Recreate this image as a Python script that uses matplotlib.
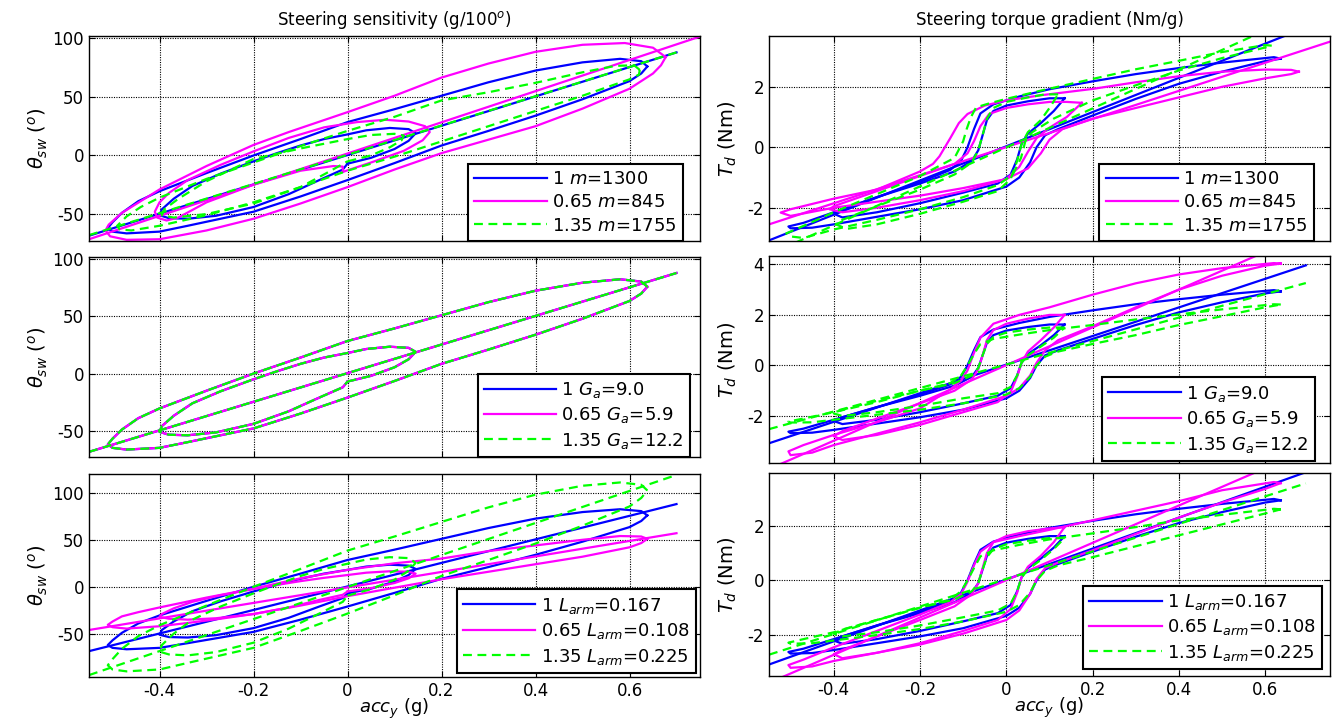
import matplotlib
matplotlib.use('Agg')
import matplotlib.pyplot as plt

# ---------------- steering wheel angle (left column) ----------------
# baseline (blue, same in all three left panels)
th_ramp_x = [-0.55, 0.70]
th_ramp_y = [-68.5, 88]
th_in_x = [0.00, 0.05, 0.10, 0.13, 0.145, 0.13, 0.09, 0.04, 0.00, -0.05, -0.10, -0.15, -0.20,
           -0.27, -0.33, -0.37, -0.395, -0.40, -0.38, -0.34, -0.28, -0.20, -0.125, -0.06, -0.01, 0.00]
th_in_y = [-7, -2, 5.5, 12.5, 19, 22.5, 23.5, 21.5, 18, 14, 8.5, 2, -5,
           -15.5, -26, -37, -46, -51, -53.5, -54, -51.5, -44, -33, -21, -12, -7]
th_out_x = [0.638, 0.625, 0.58, 0.50, 0.40, 0.30, 0.20, 0.10, 0.00, -0.10, -0.20, -0.30, -0.40,
            -0.445, -0.48, -0.50, -0.51, -0.50, -0.47, -0.40, -0.34, -0.27, -0.20, -0.10, 0.00,
            0.10, 0.20, 0.30, 0.40, 0.50, 0.60, 0.625, 0.638]
th_out_y = [76, 80.5, 82.5, 79.5, 72.5, 62.5, 51, 39.5, 28.5, 14, 0, -15, -30.5,
            -39, -49, -57, -62, -65, -66.5, -65, -60, -54, -48, -35, -21,
            -6.5, 8.5, 21, 34, 48, 63.5, 70, 76]

# m = 845 (magenta, top left)
m845_ramp_x = [-0.55, 0.75]
m845_ramp_y = [-71.5, 101.5]
m845_in_x = [-0.01, 0.05, 0.12, 0.16, 0.175, 0.165, 0.13, 0.08, 0.02, -0.05, -0.125, -0.20, -0.27,
             -0.34, -0.38, -0.40, -0.41, -0.405, -0.385, -0.36, -0.30, -0.20, -0.10, -0.03, -0.01, -0.01]
m845_in_y = [-14, -6, 4, 13, 20, 25, 29, 30.5, 28.5, 24, 15, 3.5, -8,
             -21, -32, -40, -48, -53, -55.5, -53, -40, -25, -13, -9, -9.5, -14]
m845_out_x = [0.677, 0.65, 0.59, 0.50, 0.40, 0.30, 0.20, 0.10, 0.00, -0.125, -0.20, -0.30, -0.40,
              -0.44, -0.48, -0.508, -0.515, -0.505, -0.47, -0.40, -0.30, -0.20, -0.10, 0.00,
              0.10, 0.20, 0.30, 0.40, 0.50, 0.60, 0.65, 0.667, 0.677]
m845_out_y = [84, 92, 96, 94.5, 88.5, 78.5, 66.5, 51, 37, 20, 9, -9, -29,
              -39, -49, -59, -64, -69, -72, -71.5, -64, -54, -41, -27,
              -12, 2, 13.5, 25, 40, 57, 70, 77, 84]

# m = 1755 (green, top left)
m1755_ramp_x = [-0.55, 0.70]
m1755_ramp_y = [-68, 88]
m1755_in_x = [0.00, 0.05, 0.09, 0.115, 0.12, 0.10, 0.05, 0.00, -0.10, -0.20, -0.30, -0.36, -0.39,
              -0.395, -0.37, -0.30, -0.20, -0.10, -0.04, 0.00]
m1755_in_y = [-5, 0, 7, 13, 17, 18.5, 17.5, 14, 6, -3, -22, -37, -46,
              -51, -53, -50, -41, -27, -14, -5]
m1755_out_x = [0.622, 0.61, 0.57, 0.50, 0.40, 0.30, 0.20, 0.10, 0.00, -0.10, -0.20, -0.30, -0.40,
               -0.44, -0.47, -0.49, -0.485, -0.46, -0.40, -0.30, -0.20, -0.10, 0.00,
               0.10, 0.20, 0.30, 0.40, 0.50, 0.60, 0.62, 0.622]
m1755_out_y = [73, 77, 76.5, 71, 62, 54, 47, 33, 21, 8, -6, -20, -36,
               -44, -52, -60, -63, -64, -60, -51, -40, -27, -13,
               -1, 12, 25, 38, 51, 65, 69, 73]

# L_arm = 0.108 (magenta, bottom left), same x knots as baseline
l108_ramp_y = [-46, 57]
l108_in_y = [-5, -1.5, 4, 9, 14, 16, 16.5, 15, 12.5, 9.5, 6, 2, -2.5,
             -9, -16, -23, -29, -32, -34, -35, -33.5, -29, -22, -14, -8.5, -5]
l108_out_y = [51, 53.5, 54, 50, 44, 38, 30, 25, 18, 9, -2, -11.5, -22,
              -27, -31.5, -37, -40.5, -43, -44.5, -42, -38.5, -34, -29, -20, -10,
              -1, 8, 16, 24, 32, 42, 46.5, 51]

# L_arm = 0.225 (green, bottom left)
l225_ramp_y = [-94, 119]
l225_in_y = [-9.5, -2.5, 7.5, 17, 25.5, 30.5, 31.5, 29, 24.5, 19, 11.5, 2.5, -7,
             -21, -35, -50, -62, -69, -72, -73, -69.5, -59.5, -44.5, -28.5, -16, -9.5]
l225_out_y = [102.5, 108.5, 111, 107.5, 98, 84.5, 69, 53.5, 38.5, 19, 0, -20, -41,
              -52.5, -66, -77, -83.5, -88, -90, -88, -81, -73, -65, -47, -28.5,
              -9, 11.5, 28.5, 46, 65, 85.5, 94.5, 102.5]

# ---------------- steering torque (right column) ----------------
tq_ramp_x = [-0.55, 0.694]
tq_ramp_y = [-3.08, 3.96]
tq_in_x = [0.135, 0.10, 0.05, 0.00, -0.03, -0.045, -0.055, -0.065, -0.08, -0.12, -0.20, -0.30, -0.38,
           -0.40, -0.38, -0.30, -0.20, -0.10, -0.02, 0.01, 0.025, 0.035, 0.05, 0.08, 0.11, 0.135]
tq_in_y = [1.62, 1.62, 1.52, 1.38, 1.2, 0.9, 0.4, -0.1, -0.45, -0.8, -1.2, -1.65, -2.05,
           -2.2, -2.32, -2.15, -1.85, -1.5, -1.2, -0.9, -0.4, 0.1, 0.45, 0.8, 1.2, 1.62]
tq_out_x = [0.636, 0.62, 0.50, 0.40, 0.30, 0.20, 0.10, 0.03, -0.03, -0.06, -0.075, -0.09, -0.105,
            -0.13, -0.20, -0.30, -0.40, -0.47, -0.505, -0.50, -0.45, -0.40, -0.30, -0.20, -0.10,
            0.00, 0.03, 0.055, 0.07, 0.09, 0.12, 0.20, 0.30, 0.40, 0.50, 0.60, 0.636]
tq_out_y = [2.93, 2.98, 2.8, 2.62, 2.42, 2.18, 1.92, 1.68, 1.42, 1.12, 0.6, 0.0, -0.45,
            -0.75, -1.15, -1.65, -2.15, -2.5, -2.62, -2.68, -2.66, -2.55, -2.3, -2.05, -1.75,
            -1.3, -1.0, -0.5, 0.0, 0.4, 0.6, 1.05, 1.6, 2.1, 2.5, 2.85, 2.93]

# m = 845 torque
tm845_ramp_x = [-0.55, 0.758]
tm845_ramp_y = [-2.55, 3.53]
tm845_in_x = [0.175, 0.14, 0.10, 0.05, 0.00, -0.04, -0.06, -0.075, -0.09, -0.12, -0.20, -0.30, -0.40,
              -0.41, -0.38, -0.30, -0.20, -0.10, 0.00, 0.03, 0.05, 0.07, 0.10, 0.14, 0.175]
tm845_in_y = [1.47, 1.5, 1.5, 1.42, 1.3, 1.1, 0.7, 0.2, -0.2, -0.55, -0.95, -1.45, -1.95,
              -2.05, -2.15, -2.0, -1.75, -1.45, -1.05, -0.65, -0.15, 0.3, 0.65, 1.0, 1.47]
tm845_out_x = [0.678, 0.66, 0.60, 0.50, 0.40, 0.30, 0.20, 0.08, 0.00, -0.05, -0.09, -0.11, -0.13,
               -0.155, -0.17, -0.20, -0.30, -0.40, -0.50, -0.523, -0.50, -0.40, -0.30, -0.20, -0.10,
               0.00, 0.05, 0.08, 0.10, 0.13, 0.20, 0.30, 0.40, 0.50, 0.60, 0.66, 0.678]
tm845_out_y = [2.5, 2.56, 2.57, 2.5, 2.35, 2.15, 1.93, 1.72, 1.55, 1.38, 1.1, 0.8, 0.3,
               -0.3, -0.55, -0.8, -1.4, -1.7, -2.05, -2.16, -2.27, -2.0, -1.8, -1.6, -1.35,
               -1.05, -0.7, -0.2, 0.25, 0.6, 0.95, 1.3, 1.65, 2.0, 2.28, 2.42, 2.5]

# m = 1755 torque
tm1755_ramp_x = [-0.55, 0.694]
tm1755_ramp_y = [-3.55, 4.47]
tm1755_in_x = [0.12, 0.09, 0.05, 0.00, -0.03, -0.045, -0.055, -0.065, -0.08, -0.12, -0.20, -0.30, -0.38,
               -0.395, -0.37, -0.30, -0.20, -0.10, -0.02, 0.01, 0.025, 0.035, 0.05, 0.08, 0.10, 0.12]
tm1755_in_y = [1.75, 1.75, 1.65, 1.5, 1.3, 0.95, 0.4, -0.1, -0.5, -0.9, -1.4, -1.95, -2.4,
               -2.55, -2.7, -2.55, -2.2, -1.8, -1.45, -1.05, -0.45, 0.1, 0.5, 0.9, 1.3, 1.75]
tm1755_out_x = [0.615, 0.60, 0.50, 0.40, 0.30, 0.20, 0.082, 0.00, -0.04, -0.07, -0.082, -0.092, -0.10,
                -0.12, -0.20, -0.30, -0.40, -0.47, -0.51, -0.50, -0.47, -0.40, -0.30, -0.20, -0.10,
                -0.02, 0.015, 0.034, 0.044, 0.06, 0.11, 0.20, 0.30, 0.40, 0.50, 0.60, 0.615]
tm1755_out_y = [3.36, 3.38, 3.15, 2.86, 2.58, 2.26, 1.88, 1.6, 1.45, 1.32, 1.0, 0.6, 0.2,
                -0.35, -0.95, -1.55, -2.15, -2.6, -2.85, -2.95, -3.0, -2.72, -2.4, -2.05, -1.65,
                -1.25, -0.9, -0.35, 0.2, 0.5, 0.95, 1.55, 2.05, 2.54, 2.95, 3.3, 3.36]

# G_a = 5.9 / 12.2 torque (same x knots as baseline)
tg59_ramp_y = [-4.1, 5.2]
tg59_in_y = [2.0, 2.0, 1.85, 1.65, 1.4, 1.0, 0.4, -0.15, -0.55, -1.0, -1.5, -2.1, -2.6,
             -2.8, -2.95, -2.75, -2.35, -1.85, -1.45, -1.05, -0.45, 0.1, 0.55, 1.0, 1.5, 2.0]
tg59_out_y = [4.03, 4.05, 3.85, 3.6, 3.25, 2.8, 2.3, 2.0, 1.65, 1.1, 0.5, -0.2, -0.6,
              -0.95, -1.7, -2.25, -2.75, -3.15, -3.4, -3.55, -3.45, -3.15, -2.7, -2.25, -1.75,
              -1.2, -0.9, -0.4, 0.1, 0.6, 1.0, 1.55, 2.3, 3.0, 3.55, 3.95, 4.03]
tg122_ramp_y = [-2.52, 3.26]
tg122_in_y = [1.5, 1.5, 1.42, 1.3, 1.13, 0.85, 0.4, -0.1, -0.4, -0.7, -1.0, -1.4, -1.75,
              -1.9, -2.0, -1.85, -1.6, -1.3, -1.1, -0.85, -0.4, 0.1, 0.4, 0.75, 1.1, 1.5]
tg122_out_y = [2.41, 2.42, 2.22, 2.02, 1.82, 1.6, 1.4, 1.22, 1.05, 0.85, 0.45, 0.0, -0.4,
               -0.7, -1.0, -1.45, -1.85, -2.1, -2.22, -2.26, -2.25, -2.15, -1.95, -1.75, -1.5,
               -1.15, -0.9, -0.45, 0.0, 0.35, 0.55, 0.85, 1.2, 1.6, 1.95, 2.3, 2.41]

# L_arm = 0.108 / 0.225 torque
tl108_ramp_y = [-3.75, 4.75]
tl108_in_y = [1.95, 1.9, 1.8, 1.62, 1.4, 1.0, 0.45, -0.1, -0.5, -0.95, -1.45, -2.05, -2.55,
              -2.7, -2.85, -2.65, -2.3, -1.85, -1.45, -1.05, -0.45, 0.1, 0.5, 0.9, 1.4, 1.95]
tl108_out_y = [3.56, 3.6, 3.3, 2.9, 2.55, 2.2, 1.85, 1.62, 1.4, 1.05, 0.55, -0.05, -0.5,
               -0.8, -1.25, -1.85, -2.45, -2.9, -3.1, -3.2, -3.15, -2.95, -2.65, -2.35, -1.95,
               -1.45, -1.1, -0.5, 0.05, 0.45, 0.65, 1.1, 1.7, 2.3, 2.85, 3.35, 3.56]
tl225_ramp_y = [-2.72, 3.55]
tl225_in_y = [1.55, 1.55, 1.45, 1.32, 1.15, 0.85, 0.4, -0.1, -0.4, -0.7, -1.0, -1.45, -1.8,
              -1.95, -2.05, -1.9, -1.65, -1.35, -1.1, -0.85, -0.4, 0.1, 0.4, 0.75, 1.15, 1.55]
tl225_out_y = [2.6, 2.62, 2.4, 2.2, 1.95, 1.72, 1.5, 1.3, 1.1, 0.88, 0.45, 0.0, -0.4,
               -0.7, -1.0, -1.45, -1.9, -2.15, -2.28, -2.32, -2.3, -2.2, -2.0, -1.78, -1.5,
               -1.15, -0.9, -0.45, 0.0, 0.35, 0.55, 0.85, 1.25, 1.65, 2.05, 2.45, 2.6]

x_ticks = [-0.4, -0.2, 0, 0.2, 0.4, 0.6]
x_tick_labels = ['-0.4', '-0.2', '0', '0.2', '0.4', '0.6']

plt.rcParams['font.family'] = ['DejaVu Sans']
plt.rcParams['axes.unicode_minus'] = False
plt.rcParams['mathtext.fontset'] = 'custom'
plt.rcParams['mathtext.rm'] = 'DejaVu Sans'
plt.rcParams['mathtext.it'] = 'DejaVu Sans:italic'
plt.rcParams['mathtext.bf'] = 'DejaVu Sans:bold'

BLUE, MAG, GRN = '#0000ff', '#ff00ff', '#00ff00'
LW = 1.6


def draw(ax, segs, color, label, dashed=False):
    for i, (xs, ys) in enumerate(segs):
        ln, = ax.plot(xs, ys, color=color, lw=LW, label=label if i == 0 else None)
        if dashed:
            ln.set_dashes((4, 2.5))


def style(ax, ylim, yticks, show_x):
    ax.set_xlim(-0.55, 0.75)
    ax.set_ylim(*ylim)
    ax.set_xticks(x_ticks)
    ax.set_yticks(yticks)
    ax.set_yticklabels([str(t) for t in yticks])
    if show_x:
        ax.set_xticklabels(x_tick_labels)
        ax.set_xlabel(r'$acc_y$ (g)', fontsize=13, labelpad=-2)
    else:
        ax.set_xticklabels([])
    ax.grid(True, color='k', linestyle=(0, (1, 1.2)), linewidth=0.8)
    ax.tick_params(direction='in', top=True, right=True, length=4, labelsize=12)
    for s in ax.spines.values():
        s.set_linewidth(1.0)


def legend(ax, anchor):
    lg = ax.legend(loc='lower right', bbox_to_anchor=anchor, fontsize=13, handlelength=4.0,
                   handletextpad=0.3, borderpad=0.35, labelspacing=0.3, fancybox=False,
                   framealpha=1, edgecolor='k', borderaxespad=0)
    lg.get_frame().set_linewidth(1.5)


fig = plt.figure(figsize=(13.32, 7.25), dpi=100)
W, H = 1332.0, 725.0
L0, LW0 = 89 / W, 611 / W
R0, RW0 = 769 / W, 561 / W


def rect(x0, w, top, bot):
    return [x0, 1 - bot / H, w, (bot - top) / H]


ax1 = fig.add_axes(rect(L0, LW0, 36, 241))
ax2 = fig.add_axes(rect(R0, RW0, 36, 241))
ax3 = fig.add_axes(rect(L0, LW0, 257, 457))
ax4 = fig.add_axes(rect(R0, RW0, 256, 463))
ax5 = fig.add_axes(rect(L0, LW0, 474, 677))
ax6 = fig.add_axes(rect(R0, RW0, 473, 676))

th_base = [(th_ramp_x, th_ramp_y), (th_in_x, th_in_y), (th_out_x, th_out_y)]
tq_base = [(tq_ramp_x, tq_ramp_y), (tq_in_x, tq_in_y), (tq_out_x, tq_out_y)]

# top left: mass
draw(ax1, th_base, BLUE, r'1 $\mathit{m}$=$\mathit{1300}$')
draw(ax1, [(m845_ramp_x, m845_ramp_y), (m845_in_x, m845_in_y), (m845_out_x, m845_out_y)],
     MAG, r'0.65 $\mathit{m}$=$\mathit{845}$')
draw(ax1, [(m1755_ramp_x, m1755_ramp_y), (m1755_in_x, m1755_in_y), (m1755_out_x, m1755_out_y)],
     GRN, r'1.35 $\mathit{m}$=$\mathit{1755}$', dashed=True)
style(ax1, (-73, 102), [-50, 0, 50, 100], False)
ax1.set_title(r'Steering sensitivity (g/100$^o$)', fontsize=12, pad=8)
ax1.set_ylabel(r'$\theta_{sw}$ ($^o$)', fontsize=14, labelpad=2)
legend(ax1, (0.972, 0.0))

# top right: mass
draw(ax2, tq_base, BLUE, r'1 $\mathit{m}$=$\mathit{1300}$')
draw(ax2, [(tm845_ramp_x, tm845_ramp_y), (tm845_in_x, tm845_in_y), (tm845_out_x, tm845_out_y)],
     MAG, r'0.65 $\mathit{m}$=$\mathit{845}$')
draw(ax2, [(tm1755_ramp_x, tm1755_ramp_y), (tm1755_in_x, tm1755_in_y), (tm1755_out_x, tm1755_out_y)],
     GRN, r'1.35 $\mathit{m}$=$\mathit{1755}$', dashed=True)
style(ax2, (-3.1, 3.68), [-2, 0, 2], False)
ax2.set_title('Steering torque gradient (Nm/g)', fontsize=12, pad=8)
ax2.set_ylabel(r'$T_d$ (Nm)', fontsize=14, labelpad=6)
legend(ax2, (0.972, 0.0))

# middle left: assist gain (all identical)
draw(ax3, th_base, BLUE, r'1 $G_a$=9.0')
draw(ax3, th_base, MAG, r'0.65 $G_a$=5.9')
draw(ax3, th_base, GRN, r'1.35 $G_a$=12.2', dashed=True)
style(ax3, (-73, 102), [-50, 0, 50, 100], False)
ax3.set_ylabel(r'$\theta_{sw}$ ($^o$)', fontsize=14, labelpad=2)
legend(ax3, (0.984, 0.0))

# middle right: assist gain
draw(ax4, tq_base, BLUE, r'1 $G_a$=9.0')
draw(ax4, [(tq_ramp_x, tg59_ramp_y), (tq_in_x, tg59_in_y), (tq_out_x, tg59_out_y)],
     MAG, r'0.65 $G_a$=5.9')
draw(ax4, [(tq_ramp_x, tg122_ramp_y), (tq_in_x, tg122_in_y), (tq_out_x, tg122_out_y)],
     GRN, r'1.35 $G_a$=12.2', dashed=True)
style(ax4, (-3.86, 4.33), [-2, 0, 2, 4], False)
ax4.set_ylabel(r'$T_d$ (Nm)', fontsize=14, labelpad=6)
legend(ax4, (0.973, 0.01))

# bottom left: arm length
draw(ax5, th_base, BLUE, r'1 $L_{arm}$=0.167')
draw(ax5, [(th_ramp_x, l108_ramp_y), (th_in_x, l108_in_y), (th_out_x, l108_out_y)],
     MAG, r'0.65 $L_{arm}$=0.108')
draw(ax5, [(th_ramp_x, l225_ramp_y), (th_in_x, l225_in_y), (th_out_x, l225_out_y)],
     GRN, r'1.35 $L_{arm}$=0.225', dashed=True)
style(ax5, (-96, 120), [-50, 0, 50, 100], True)
ax5.set_ylabel(r'$\theta_{sw}$ ($^o$)', fontsize=14, labelpad=2)
legend(ax5, (0.993, 0.02))

# bottom right: arm length
draw(ax6, tq_base, BLUE, r'1 $L_{arm}$=0.167')
draw(ax6, [(tq_ramp_x, tl108_ramp_y), (tq_in_x, tl108_in_y), (tq_out_x, tl108_out_y)],
     MAG, r'0.65 $L_{arm}$=0.108')
draw(ax6, [(tq_ramp_x, tl225_ramp_y), (tq_in_x, tl225_in_y), (tq_out_x, tl225_out_y)],
     GRN, r'1.35 $L_{arm}$=0.225', dashed=True)
style(ax6, (-3.5, 3.93), [-2, 0, 2], True)
ax6.set_ylabel(r'$T_d$ (Nm)', fontsize=14, labelpad=6)
legend(ax6, (0.986, 0.034))

fig.savefig('out.png', dpi=100)
